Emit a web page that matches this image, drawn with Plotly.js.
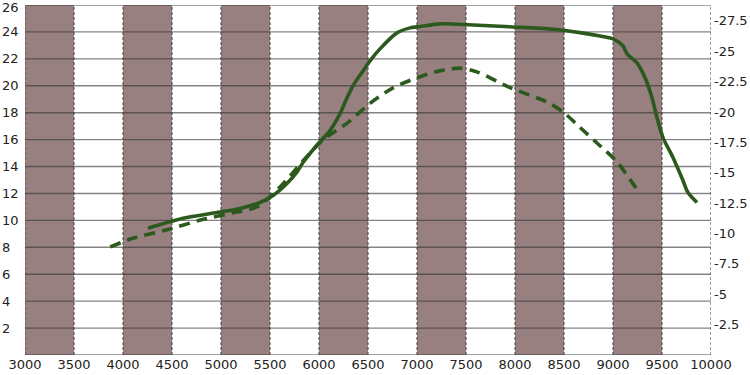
<!DOCTYPE html>
<html><head><meta charset="utf-8">
<script src="https://cdn.plot.ly/plotly-3.0.1.min.js"></script>
<style>html,body{margin:0;padding:0;background:#fff;}#chart{width:750px;height:375px;}</style>
</head><body><div id="chart"></div>
<script>
// Solid series (left axis)
var solidX = [4255, 4612, 4959, 5194, 5398, 5531, 5673, 5776, 5837, 5980, 6112, 6214, 6286, 6347, 6449, 6520, 6622, 6796, 6929, 7031, 7235, 7469, 7980, 8388, 8663, 8867, 9000, 9102, 9143, 9245, 9327, 9398, 9449, 9510, 9612, 9714, 9765, 9857];
var solidY = [9.41, 10.15, 10.59, 10.89, 11.33, 11.85, 12.74, 13.6, 14.3, 15.6, 16.67, 17.93, 19.11, 20.0, 21.1, 21.85, 22.74, 23.93, 24.3, 24.4, 24.6, 24.55, 24.37, 24.2, 23.95, 23.7, 23.48, 22.96, 22.37, 21.7, 20.59, 19.11, 17.63, 16.15, 14.67, 12.96, 12.07, 11.33];
// Dashed series (right axis)
var dashX = [3870, 4100, 4450, 4790, 5120, 5370, 5600, 5840, 6040, 6290, 6520, 6760, 7030, 7240, 7440, 7610, 7950, 8330, 8490, 8660, 8870, 9040, 9250];
var dashY = [-8.9, -9.6, -10.3, -11.1, -11.7, -12.2, -13.8, -16.0, -17.7, -19.1, -20.7, -22.0, -22.9, -23.4, -23.6, -23.3, -22.0, -20.8, -20.0, -18.75, -17.2, -15.9, -13.55];
// Shaded bands (start of each 500-wide band)
var bandStarts = [3000, 4000, 5000, 6000, 7000, 8000, 9000];
var bandWidth = 500;
// Tick labels
var xTicks = [3000,3500,4000,4500,5000,5500,6000,6500,7000,7500,8000,8500,9000,9500,10000];
var yTicks = [2,4,6,8,10,12,14,16,18,20,22,24,26];
var yGrid = [0,2,4,6,8,10,12,14,16,18,20,22,24,26];
var y2Ticks = [-2.5,-5,-7.5,-10,-12.5,-15,-17.5,-20,-22.5,-25,-27.5];

var xMin = xTicks[0], xMax = xTicks[xTicks.length - 1];
var yMin = yGrid[0], yMax = yGrid[yGrid.length - 1];

// gridline paths built from the tick arrays
var hgX = [], hgY = [];
yGrid.forEach(function(v){ hgX.push(xMin, xMax, null); hgY.push(v, v, null); });
var vgX = [], vgY = [];
xTicks.forEach(function(v){ vgX.push(v, v, null); vgY.push(yMin, yMax, null); });

var green = '#2c5a1c';
var traces = [
  {x: hgX, y: hgY, type: 'scatter', mode: 'lines', line: {color: 'rgba(50,50,50,0.6)', width: 1.4}, connectgaps: false, hoverinfo: 'none', cliponaxis: false},
  {x: vgX, y: vgY, type: 'scatter', mode: 'lines', line: {color: 'rgba(70,70,70,0.8)', width: 1.3, dash: '3px,2px'}, connectgaps: false, hoverinfo: 'none', cliponaxis: false},
  {x: solidX, y: solidY, type: 'scatter', mode: 'lines', line: {color: green, width: 3.6, shape: 'spline', smoothing: 0.8}, xaxis: 'x', yaxis: 'y', hoverinfo: 'none'},
  {x: dashX, y: dashY, type: 'scatter', mode: 'lines', line: {color: green, width: 3.6, dash: '11px,7px', shape: 'spline', smoothing: 0.8}, xaxis: 'x', yaxis: 'y2', hoverinfo: 'none'}
];

var shapes = bandStarts.map(function(s){
  return {type: 'rect', xref: 'x', yref: 'y', x0: s, x1: s + bandWidth, y0: yMin, y1: yMax,
          fillcolor: '#988080', line: {width: 0}, layer: 'below'};
});

var font = {family: 'DejaVu Sans, sans-serif', size: 13, color: '#222'};
var annotations = yTicks.map(function(v, i){
  return {xref: 'paper', yref: 'y', x: 0, y: v, xanchor: 'left', yanchor: 'middle', xshift: -25,
          yshift: (i === yTicks.length - 1) ? -2 : 0,
          text: String(v), showarrow: false, font: font};
});

var layout = {
  width: 750, height: 375,
  margin: {l: 25, r: 39, t: 5, b: 20, pad: 0},
  paper_bgcolor: '#ffffff', plot_bgcolor: '#ffffff',
  showlegend: false,
  font: font,
  shapes: shapes,
  annotations: annotations,
  xaxis: {range: [xMin, xMax], tickmode: 'array', tickvals: xTicks, ticktext: xTicks.map(String),
          showgrid: false, zeroline: false, showline: false, ticks: '', tickfont: font},
  yaxis: {range: [yMin, yMax], showticklabels: false, showgrid: false, zeroline: false, showline: false, ticks: ''},
  yaxis2: {overlaying: 'y', side: 'right', range: [0, -28.8], tickmode: 'array', tickvals: y2Ticks, ticktext: y2Ticks.map(String),
           showgrid: false, zeroline: false, showline: false, ticks: '', ticklabelstandoff: 2, tickfont: font}
};
Plotly.newPlot('chart', traces, layout, {staticPlot: true, displayModeBar: false});
</script></body></html>
